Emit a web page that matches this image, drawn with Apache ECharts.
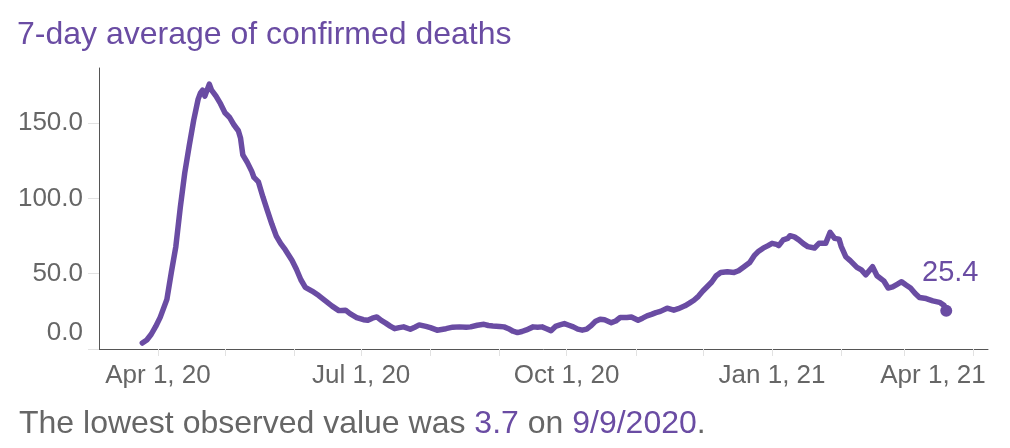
<!DOCTYPE html>
<html><head><meta charset="utf-8">
<script src="https://cdn.jsdelivr.net/npm/echarts@6/dist/echarts.min.js"></script>
<style>html,body{margin:0;padding:0;background:#fff}#c{width:1010px;height:448px}</style>
</head><body><div id="c"></div>
<script>
const titleText = '7-day average of confirmed deaths';
const lowestValue = '3.7';
const lowestDate = '9/9/2020';

const dates = [
'2020-03-25','2020-03-27','2020-03-29','2020-03-31','2020-04-02','2020-04-04','2020-04-05','2020-04-06','2020-04-07','2020-04-09',
'2020-04-11','2020-04-13','2020-04-15','2020-04-17','2020-04-19','2020-04-20','2020-04-21','2020-04-22','2020-04-23','2020-04-24',
'2020-04-25','2020-04-27','2020-04-29','2020-05-01','2020-05-03','2020-05-05','2020-05-07','2020-05-08','2020-05-09','2020-05-11',
'2020-05-13','2020-05-14','2020-05-16','2020-05-18','2020-05-20','2020-05-22','2020-05-24','2020-05-26','2020-05-28','2020-05-31',
'2020-06-02','2020-06-04','2020-06-06','2020-06-09','2020-06-12','2020-06-15','2020-06-18','2020-06-21','2020-06-24','2020-06-26',
'2020-06-29','2020-07-02','2020-07-04','2020-07-06','2020-07-08','2020-07-10','2020-07-12','2020-07-14','2020-07-16','2020-07-18',
'2020-07-20','2020-07-23','2020-07-25','2020-07-27','2020-07-30','2020-08-01','2020-08-04','2020-08-06','2020-08-08','2020-08-11',
'2020-08-14','2020-08-17','2020-08-19','2020-08-22','2020-08-25','2020-08-27','2020-08-29','2020-09-01','2020-09-03','2020-09-05',
'2020-09-07','2020-09-09','2020-09-11','2020-09-13','2020-09-16','2020-09-18','2020-09-20','2020-09-22','2020-09-24','2020-09-26',
'2020-09-28','2020-09-30','2020-10-02','2020-10-04','2020-10-06','2020-10-08','2020-10-10','2020-10-12','2020-10-14','2020-10-16',
'2020-10-18','2020-10-21','2020-10-23','2020-10-25','2020-10-28','2020-10-30','2020-11-02','2020-11-04','2020-11-06','2020-11-08',
'2020-11-10','2020-11-12','2020-11-15','2020-11-18','2020-11-20','2020-11-23','2020-11-25','2020-11-27','2020-11-29','2020-12-01',
'2020-12-03','2020-12-05','2020-12-07','2020-12-09','2020-12-12','2020-12-15','2020-12-17','2020-12-19','2020-12-22','2020-12-24',
'2020-12-26','2020-12-28','2020-12-30','2021-01-01','2021-01-03','2021-01-04','2021-01-06','2021-01-08','2021-01-09','2021-01-11',
'2021-01-13','2021-01-15','2021-01-17','2021-01-20','2021-01-22','2021-01-25','2021-01-27','2021-01-29','2021-01-31','2021-02-01',
'2021-02-03','2021-02-05','2021-02-08','2021-02-10','2021-02-12','2021-02-15','2021-02-17','2021-02-20','2021-02-22','2021-02-24',
'2021-02-26','2021-02-28','2021-03-02','2021-03-04','2021-03-06','2021-03-08','2021-03-11','2021-03-14','2021-03-17','2021-03-19',
'2021-03-20'
];
const deaths = [
4.0,6,9.8,15,21,29,33,42,51,68,
94,117,135,152,166,170,172,168,172,176,
172,168,163,157,154,149,145,140,129,124,
118,114,111,101,92,83,75,70,66,59,
53,46,41,38.5,35.5,32,28.5,25.5,25.8,23.5,
20.9,19.5,19.1,20.5,21.3,19,17.2,15.2,13.5,14.2,
14.7,13.1,14.5,16,15,14.2,12.5,13,13.5,14.5,
14.7,14.5,14.7,15.8,16.4,15.6,15.3,15,14.7,13.5,
11.8,10.9,11.6,12.7,14.7,14.5,14.7,13.5,12.2,15,
16,16.9,15.8,14.7,13.2,12.5,13.2,15.5,18.5,19.8,
19.4,17.5,18.6,20.9,21,21.3,19.1,20.5,22,23,
24.2,25,27.1,25.8,26.8,28.7,30.5,32.4,35,38.5,
41.5,44.5,48.7,50.8,51.3,50.9,52,54.2,57.5,62,
65,67,68.5,70.2,69.5,68.7,72.5,73.5,75.3,74.5,
72.5,70,68,67.1,70.2,70.2,77.5,73.5,73,68,
61.3,58.7,54.2,52.5,49.3,54.7,48.7,45.3,40.5,41.3,
43,44.7,42.5,40.5,37,34.2,33.5,32,31,29,
25.4
];

const xTickDates = ['2020-04-01','2020-05-01','2020-06-01','2020-07-01','2020-08-01','2020-09-01','2020-10-01',
  '2020-11-01','2020-12-01','2021-01-01','2021-02-01','2021-03-01','2021-04-01'];
const xLabelDates = ['2020-04-01','2020-07-01','2020-10-01','2021-01-01','2021-04-01'];
const xLabels = ['Apr 1, 20','Jul 1, 20','Oct 1, 20','Jan 1, 21','Apr 1, 21'];
const yTicks = [0, 50, 100, 150];

const PURPLE = '#6a4ca3';
const GRAY = '#666666';
const FONT = '"Liberation Sans", Arial, Helvetica, sans-serif';

function ts(s) { const p = s.split('-').map(Number); return Date.UTC(p[0], p[1] - 1, p[2]); }
const DAY = 864e5;
const seriesData = dates.map((d, i) => [ts(d), deaths[i]]);
const last = seriesData[seriesData.length - 1];
const labelTs = xLabelDates.map(ts);

const chart = echarts.init(document.getElementById('c'), null, { renderer: 'canvas' });
chart.setOption({
  animation: false,
  backgroundColor: '#fff',
  title: {
    text: titleText, left: 12, top: 14,
    textStyle: { color: PURPLE, fontSize: 32, fontWeight: 'normal', fontFamily: FONT }
  },
  grid: { left: 99, right: 22, top: 68, bottom: 99, containLabel: false },
  xAxis: {
    type: 'value',
    min: ts('2020-04-01') - 26.4 * DAY,
    max: ts('2020-04-01') + 371.7 * DAY,
    axisLine: { show: true, lineStyle: { color: '#555', width: 1 } },
    axisTick: { show: true, customValues: xTickDates.map(ts), length: 7, lineStyle: { color: '#e2e2e2', width: 1 } },
    splitLine: { show: false },
    axisLabel: {
      customValues: labelTs,
      margin: 14,
      color: GRAY, fontSize: 26, fontFamily: FONT,
      formatter: function (v) {
        const i = labelTs.indexOf(v);
        if (i < 0) return '';
        if (i === xLabels.length - 1) return '{r|' + xLabels[i] + '}';
        return xLabels[i];
      },
      rich: { r: { color: GRAY, fontSize: 26, fontFamily: FONT, padding: [0, 80, 0, 0] } }
    }
  },
  yAxis: {
    type: 'value', min: 0, max: 186.7,
    axisLine: { show: true, lineStyle: { color: '#555', width: 1 } },
    axisTick: { show: true, customValues: yTicks, length: 11, lineStyle: { color: '#e2e2e2', width: 1 } },
    splitLine: { show: false },
    axisLabel: {
      customValues: yTicks,
      margin: 16,
      color: GRAY, fontSize: 26, fontFamily: FONT,
      formatter: function (v) { return v === 0 ? '{z|' + v.toFixed(1) + '}' : v.toFixed(1); },
      rich: { z: { color: GRAY, fontSize: 26, fontFamily: FONT, padding: [0, 0, 32, 0] } }
    }
  },
  series: [
    {
      type: 'line', data: seriesData, showSymbol: false, symbol: 'none',
      lineStyle: { color: PURPLE, width: 5.5, cap: 'round', join: 'round' },
      itemStyle: { color: PURPLE }
    },
    {
      type: 'scatter', data: [last], symbol: 'circle', symbolSize: 12,
      itemStyle: { color: PURPLE, opacity: 1 },
      label: {
        show: true, position: 'top', distance: 17, offset: [4, 0],
        color: PURPLE, opacity: 1, fontSize: 29, fontFamily: FONT,
        formatter: function (p) { return p.value[1].toFixed(1); }
      }
    }
  ],
  graphic: [{
    type: 'text', left: 19, top: 408,
    style: {
      text: '{a|The lowest observed value was }{b|' + lowestValue + '}{a| on }{b|' + lowestDate + '}{a|.}',
      rich: {
        a: { fill: GRAY, fontSize: 32, fontFamily: FONT },
        b: { fill: PURPLE, fontSize: 32, fontFamily: FONT }
      }
    }
  }]
});
</script>
</body></html>
